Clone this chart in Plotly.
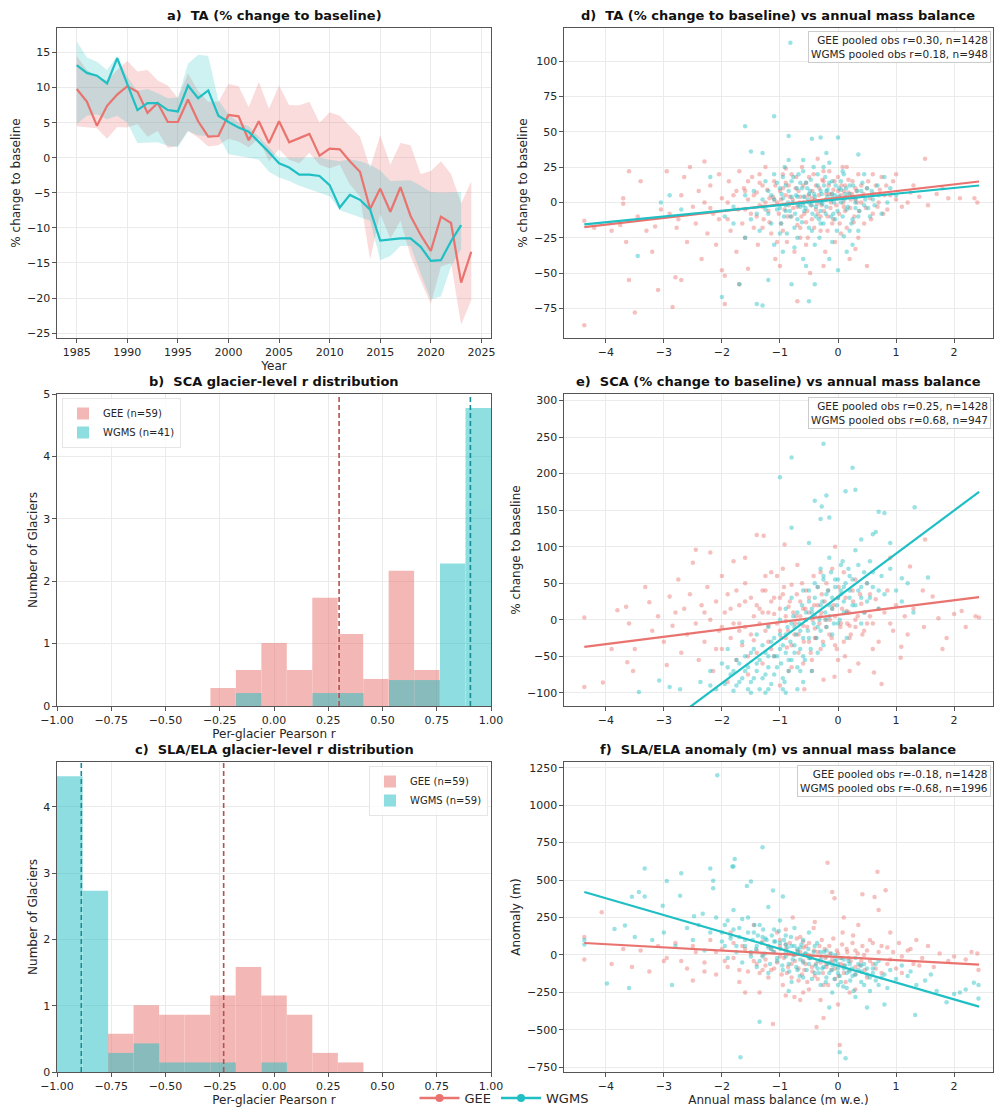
import plotly.graph_objects as go

# ---------------- data ----------------
YEARS_GEE = list(range(1985, 2025))
YEARS_WGMS = list(range(1985, 2024))
TA_GEE = [9.8, 8.0, 4.55, 7.4, 9.0, 10.2, 9.4, 6.4, 7.8, 5.1, 5.1, 8.3, 5.2, 3.0, 3.1, 6.1, 5.9, 2.5, 5.2, 2.1,
          5.2, 2.2, 2.8, 3.4, 0.3, 1.3, 1.2, -0.5, -2.0, -7.3, -4.4, -7.7, -4.2, -8.3, -11.0, -13.3, -8.4, -9.3, -17.8, -13.4]
TA_GEE_HI = [14.5, 12.5, 11.5, 11.0, 12.5, 13.8, 12.3, 12.5, 11.0, 10.3, 8.5, 12.0, 9.5, 8.0, 8.0, 10.5, 10.2, 7.2, 10.8, 7.0,
             10.3, 7.5, 7.5, 8.0, 5.0, 6.5, 6.0, 4.5, 3.0, -1.5, 3.2, -1.0, 2.1, 1.8, -2.3, -1.9, -0.5, -2.3, -6.5, -3.4]
TA_GEE_LO = [4.5, 4.3, 4.2, 2.7, 4.4, 4.3, 4.8, 3.0, 3.8, 1.4, 1.7, 3.8, 2.9, 1.6, 1.8, 2.7, 2.3, 1.5, 2.8, -0.5,
             1.2, -0.3, -0.8, 0.7, -1.0, -1.5, -1.0, -3.8, -5.5, -14.5, -8.0, -11.5, -9.0, -14.0, -17.5, -20.8, -15.5, -15.0, -23.8, -20.3]
TA_WGMS = [13.2, 12.1, 11.7, 10.6, 14.2, 10.5, 6.8, 7.8, 7.8, 6.8, 6.6, 10.3, 8.5, 9.6, 6.0, 5.1, 4.3, 3.7, 2.3, 0.8,
           -0.8, -1.4, -2.4, -2.4, -2.6, -3.9, -7.1, -5.3, -6.0, -7.4, -11.8, -11.6, -11.5, -11.5, -12.7, -14.7, -14.6, -11.9, -9.6]
TA_WGMS_HI = [16.6, 14.3, 13.7, 12.5, 14.5, 11.5, 9.5, 9.8, 9.2, 8.5, 8.6, 13.4, 14.7, 14.5, 8.2, 6.2, 5.0, 4.5, 3.0, 1.5,
              0.0, 0.0, 0.0, 0.0, 0.0, -0.3, -0.5, -0.2, -0.5, -1.0, -1.8, -3.3, -3.3, -3.2, -4.0, -4.9, -5.0, -5.0, -4.9]
TA_WGMS_LO = [4.8, 6.0, 6.2, 5.5, 6.0, 5.0, 2.1, 2.2, 2.2, 1.7, 1.5, 3.8, 3.2, 3.1, 3.2, 0.5, 0.2, 0.0, -0.3, -2.0,
              -2.8, -3.3, -4.0, -4.5, -5.0, -5.5, -7.5, -8.0, -8.5, -9.0, -14.6, -14.0, -12.6, -12.6, -16.5, -20.2, -19.8, -15.5, -13.0]

# histograms (bin start, bin end, counts)
SCA_GEE_EDGES = (-0.293, 0.763)
SCA_GEE_COUNTS = [2, 4, 7, 4, 12, 8, 3, 15, 4]
SCA_WGMS_EDGES = (-0.175, 1.0)
SCA_WGMS_COUNTS = [1, 0, 0, 1, 1, 0, 2, 2, 11, 23]
SCA_MEANS = {"GEE": 0.30, "WGMS": 0.905}
SLA_GEE_EDGES = (-0.765, 0.412)
SLA_GEE_COUNTS = [4, 7, 6, 6, 8, 11, 8, 6, 2, 1]
SLA_WGMS_EDGES = (-1.0, 0.06)
SLA_WGMS_COUNTS = [31, 19, 2, 3, 1, 1, 1, 0, 1]
SLA_MEANS = {"GEE": -0.232, "WGMS": -0.888}

# scatter points (mass balance, value)
D_GEE = [(-4.37,-87),(-4.37,-13),(-4.2,-18),(-3.9,-20),(-3.75,-16),(-3.7,3),(-3.7,-1),(-3.65,-28),(-3.6,22),(-3.6,-55),
 (-3.5,-78),(-3.45,-10),(-3.4,15),(-3.3,-20),(-3.2,-35),(-3.15,-17),(-3.1,-62),(-3.05,-5),(-2.95,22),(-2.9,-8),
 (-2.85,-74),(-2.8,-53),(-2.78,-18),(-2.75,-12),(-2.7,-55),(-2.7,5),(-2.65,18),(-2.6,-28),(-2.55,25),(-2.5,-3),
 (-2.45,-15),(-2.4,8),(-2.35,-40),(-2.3,29),(-2.3,0),(-2.25,-22),(-2.2,12),(-2.15,-8),(-2.1,-30),(-2.05,20),
 (-2.0,-48),(-2.0,3),(-1.95,-52),(-1.95,-72),(-1.9,-12),(-1.88,15),(-1.85,-20),(-1.8,5),(-1.75,-35),(-1.72,-5),
 (-1.7,22),(-1.65,-15),(-1.62,10),(-1.6,-25),(-1.55,-47),(-1.55,2),(-1.5,-8),(-1.48,18),(-1.45,-18),(-1.4,7),
 (-1.38,-30),(-1.35,-2),(-1.3,12),(-1.28,-12),(-1.25,25),(-1.2,-6),(-1.18,3),(-1.15,-22),(-1.1,15),(-1.08,-40),
 (-1.05,0),(-1.0,-45),(-1.0,8),(-0.98,-15),(-0.95,20),(-0.92,-5),(-0.9,5),(-0.88,-28),(-0.85,12),(-0.8,-10),
 (-0.78,2),(-0.75,-35),(-0.72,18),(-0.7,-70),(-0.7,-3),(-0.68,8),(-0.65,-18),(-0.62,25),(-0.6,0),(-0.58,-8),
 (-0.55,14),(-0.52,-25),(-0.5,5),(-0.48,-50),(-0.45,-12),(-0.42,20),(-0.4,2),(-0.38,-5),(-0.35,31),(-0.32,10),
 (-0.3,-20),(-0.28,-2),(-0.25,15),(-0.22,-35),(-0.2,6),(-0.18,-10),(-0.15,22),(-0.12,0),(-0.1,-15),(-0.08,9),
 (-0.05,-28),(-0.02,3),(0.0,18),(0.02,-8),(0.05,5),(0.08,25),(0.1,-3),(0.12,12),(0.15,-18),(0.18,7),
 (0.2,-40),(0.22,2),(0.25,15),(0.28,-10),(0.3,-33),(0.32,8),(0.35,20),(0.4,0),(0.45,-15),(0.5,-45),
 (0.5,10),(0.55,3),(0.6,-8),(0.65,12),(0.7,0),(0.75,18),(0.8,5),(0.85,-5),(0.9,5),(0.95,15),
 (1.0,2),(1.1,-3),(1.2,0),(1.25,7),(1.3,12),(1.4,4),(1.5,31),(1.55,-2),(1.7,6),(1.9,3),
 (2.1,3),(2.35,3),(2.4,0),(1.8,10),(1.0,20),(-0.9,24),(-1.7,-58),(-1.3,-3),(-0.65,4),(-0.35,-8),
 (-0.15,6),(0.1,8),(-1.1,2),(-0.95,10),(-0.45,3),(0.3,2),(-1.6,8),(-2.2,-4),(-0.55,-30),(-0.25,-45)]
D_GEE_CORE = [(-1.45,5),(-1.4,-10),(-1.35,14),(-1.3,-18),(-1.25,0),(-1.22,9),(-1.18,-14),(-1.12,4),(-1.08,12),(-1.02,-8),
 (-0.98,2),(-0.95,-20),(-0.9,14),(-0.87,-10),(-0.83,4),(-0.8,20),(-0.77,-4),(-0.73,10),(-0.7,-16),(-0.66,0),
 (-0.63,-10),(-0.6,12),(-0.57,4),(-0.53,-6),(-0.5,18),(-0.47,-2),(-0.44,8),(-0.41,-18),(-0.38,12),(-0.36,-1),
 (-0.33,5),(-0.3,-10),(-0.27,16),(-0.24,-6),(-0.21,2),(-0.18,-20),(-0.16,12),(-0.13,-4),(-0.11,6),(-0.08,-12),
 (-0.06,15),(-0.03,-2),(0.0,8),(0.03,-15),(0.06,12),(0.09,0),(0.12,-6),(0.15,4),(0.18,16),(0.21,-4),
 (0.24,6),(0.27,-14),(0.3,10),(0.33,0),(0.36,-6),(0.4,12),(0.44,6),(0.48,-4),(0.52,15),(0.57,-12),
 (0.62,6),(0.68,-3),(0.72,9),(0.78,-8),(0.83,12),(-1.6,-5),(-1.75,8),(-1.9,0),(-2.05,-12),(-1.55,15),
 (-0.85,-2),(-0.55,-14),(-0.25,22),(0.05,-22),(0.35,-25),(-0.65,-25),(-1.05,-28),(-1.35,20),(0.6,20),(0.15,25)]
D_WGMS = [(-0.82,113),(-1.1,61),(-1.6,54),(-0.85,47),(-0.3,46),(0.0,46),(-0.45,45),(-0.2,35),(0.35,34),(-1.3,35),
 (-1.5,36),(-3.45,-38),(-3.05,0),(-2.9,5),(-2.7,-5),(-2.2,18),(-2.0,-67),(-1.95,-10),(-1.8,-3),(-1.7,-58),
 (-1.6,-25),(-1.5,-12),(-1.45,8),(-1.4,-72),(-1.35,-20),(-1.3,-73),(-1.3,2),(-1.25,15),(-1.2,-55),(-1.2,-8),
 (-1.15,5),(-1.1,-30),(-1.1,20),(-1.05,-5),(-1.0,10),(-0.98,-15),(-0.95,3),(-0.92,25),(-0.9,-2),(-0.88,-22),
 (-0.85,8),(-0.82,-10),(-0.8,-58),(-0.8,15),(-0.78,0),(-0.75,-32),(-0.72,5),(-0.7,-12),(-0.68,20),(-0.65,-3),
 (-0.62,10),(-0.6,-40),(-0.58,-6),(-0.55,14),(-0.52,2),(-0.5,-70),(-0.5,-18),(-0.48,8),(-0.45,-2),(-0.42,25),
 (-0.4,-58),(-0.4,4),(-0.38,-10),(-0.35,12),(-0.32,-25),(-0.3,0),(-0.28,6),(-0.25,-15),(-0.22,18),(-0.2,-3),
 (-0.18,9),(-0.15,-40),(-0.12,2),(-0.1,15),(-0.08,-8),(-0.05,5),(-0.02,-20),(0.0,-48),(0.02,10),(0.05,0),
 (0.08,22),(0.1,-24),(0.12,6),(0.15,-5),(0.2,12),(0.25,-12),(0.3,3),(0.35,-20),(0.4,8),(0.45,-2),
 (0.5,10),(0.55,-10),(0.6,2),(0.7,5),(0.8,18),(0.9,10),(1.0,5),(-0.6,30),(-0.95,-35),(0.25,-30),
 (0.15,-35),(-0.7,4),(-0.5,6),(-0.3,-6),(-0.1,3),(0.05,9),(-0.9,-6),(-0.6,-2),(-0.2,8),(0.3,-4)]
D_WGMS_CORE = [(-1.25,-5),(-1.2,8),(-1.15,-15),(-1.1,2),(-1.05,14),(-1.0,-4),(-0.97,6),(-0.93,-10),(-0.9,12),(-0.86,0),
 (-0.83,-6),(-0.8,4),(-0.77,18),(-0.74,-8),(-0.71,10),(-0.68,-2),(-0.65,14),(-0.62,-14),(-0.59,4),(-0.56,-4),
 (-0.53,10),(-0.5,0),(-0.47,16),(-0.44,-8),(-0.41,6),(-0.38,-3),(-0.35,20),(-0.33,-12),(-0.3,8),(-0.27,-1),
 (-0.24,12),(-0.21,-8),(-0.18,4),(-0.15,14),(-0.12,-10),(-0.1,6),(-0.07,0),(-0.04,12),(-0.01,-6),(0.02,4),
 (0.05,15),(0.08,-10),(0.11,2),(0.14,10),(0.17,-3),(0.2,6),(0.23,-15),(0.26,12),(0.3,0),(0.33,8),
 (0.37,-6),(0.42,14),(0.47,2),(0.52,-4),(0.58,8),(0.63,-2),(0.68,12),(-0.95,18),(-0.6,22),(-0.25,25),
 (0.1,20),(-0.7,-25),(-0.4,-30),(-0.1,-28),(0.2,-20),(-1.0,-22),(-0.55,-45),(-0.85,30),(-0.15,28),(0.45,20),
 (-1.4,-8),(-1.6,5),(-1.8,-15),(0.85,0),(0.75,-8),(-0.45,-20),(-0.3,-15),(-0.05,-12),(0.35,-10),(-0.75,-18)]

E_GEE = [(-4.37,3),(-4.37,-92),(-4.05,-86),(-3.8,13),(-3.65,18),(-3.6,-5),(-3.5,-40),(-3.32,45),(-3.25,24),(-3.53,-70),
 (-3.63,-58),(-3.2,-15),(-3.1,5),(-3.0,-30),(-2.95,-62),(-2.9,32),(-2.85,-8),(-2.75,55),(-2.7,-45),(-2.65,15),
 (-2.6,-20),(-2.55,35),(-2.5,78),(-2.45,96),(-2.45,-5),(-2.4,-55),(-2.35,20),(-2.3,-30),(-2.25,45),(-2.2,92),
 (-2.2,0),(-2.15,-70),(-2.1,25),(-2.05,-15),(-2.0,60),(-2.0,-40),(-1.95,10),(-1.9,-85),(-1.9,35),(-1.85,-25),
 (-1.8,80),(-1.8,-5),(-1.75,-55),(-1.7,20),(-1.65,-35),(-1.6,50),(-1.6,-10),(-1.55,-75),(-1.5,30),(-1.5,-20),
 (-1.45,5),(-1.4,116),(-1.4,-45),(-1.35,15),(-1.3,-60),(-1.28,115),(-1.25,40),(-1.2,-8),(-1.2,-30),(-1.15,25),
 (-1.1,-50),(-1.1,8),(-1.05,60),(-1.0,-15),(-1.0,-90),(-0.95,35),(-0.92,103),(-0.9,-2),(-0.88,-38),(-0.85,18),
 (-0.8,-65),(-0.8,48),(-0.75,-20),(-0.72,5),(-0.7,75),(-0.68,-45),(-0.65,25),(-0.6,-8),(-0.58,-95),(-0.55,40),
 (-0.5,-30),(-0.5,10),(-0.45,-55),(-0.42,60),(-0.4,-12),(-0.35,20),(-0.3,-40),(-0.28,35),(-0.25,-82),(-0.22,0),
 (-0.2,50),(-0.15,-20),(-0.1,15),(-0.06,-78),(-0.05,-35),(0.0,30),(0.05,-5),(0.1,65),(0.12,-50),(0.15,12),
 (0.2,-25),(0.25,40),(0.3,0),(0.35,-60),(0.4,22),(0.45,-15),(0.5,50),(0.55,5),(0.62,-72),(0.65,28),
 (0.7,-30),(0.75,-88),(0.8,10),(0.85,40),(0.95,-15),(1.0,20),(1.09,-37),(1.08,-52),(1.15,5),(1.24,73),
 (1.3,15),(1.46,40),(1.48,-10),(1.5,110),(1.63,32),(1.73,2),(1.87,-25),(2.0,8),(2.13,12),(2.37,5),
 (2.43,3),(1.2,-20),(0.9,85),(-0.05,100),(-1.6,85),(-1.3,10),(-0.9,-25),(-0.6,15),(-0.3,5),(0.2,-8),
 (-1.7,-15),(-1.0,30),(-0.4,-25),(0.6,-5),(1.8,-40),(2.2,-10),(-3.9,-40),(-2.8,10)]
E_GEE_CORE = [(-1.45,-28),(-1.4,20),(-1.35,-5),(-1.3,40),(-1.25,-15),(-1.2,10),(-1.15,-40),(-1.1,30),(-1.05,-5),(-1.0,15),
 (-0.97,-25),(-0.93,45),(-0.9,5),(-0.86,-15),(-0.83,25),(-0.8,-35),(-0.77,10),(-0.74,-5),(-0.71,35),(-0.68,-20),
 (-0.65,5),(-0.62,50),(-0.59,-30),(-0.56,15),(-0.53,-10),(-0.5,30),(-0.47,-45),(-0.44,0),(-0.41,20),(-0.38,-25),
 (-0.35,45),(-0.32,-5),(-0.29,10),(-0.26,-30),(-0.23,25),(-0.2,-10),(-0.17,40),(-0.14,0),(-0.11,-25),(-0.08,20),
 (-0.05,5),(-0.02,-40),(0.01,45),(0.04,-10),(0.07,15),(0.1,-30),(0.13,30),(0.16,-5),(0.19,10),(0.22,-20),
 (0.26,25),(0.3,-10),(0.34,5),(0.38,35),(0.42,-20),(0.46,10),(0.5,-5),(-1.6,25),(-1.7,-5),(-1.85,15),
 (-2.0,-10),(-1.55,-50),(-1.25,60),(-0.95,70),(-0.6,-60),(-0.3,65),(0.0,-55),(0.3,55),(0.6,-40),(0.7,15),
 (-1.75,40),(-2.1,-40),(-0.45,-70),(-0.1,70),(0.2,-70),(-0.85,-70),(-1.15,65),(0.55,35),(0.9,-5),(-2.3,10)]
E_WGMS = [(-0.25,241),(-0.8,222),(0.25,208),(-1.0,195),(0.13,176),(0.3,178),(-0.2,170),(-0.4,163),(-0.28,155),(1.32,154),
 (0.7,148),(0.8,146),(-0.15,140),(-0.3,138),(-0.8,126),(0.6,117),(0.65,120),(-0.5,105),(0.9,105),(0.4,110),
 (1.55,58),(1.1,57),(-3.43,-99),(-3.08,-83),(-2.9,-92),(-2.72,-95),(-2.37,-85),(-2.2,-70),(-2.1,-95),(-2.0,-60),
 (-1.95,-88),(-1.9,-40),(-1.85,-75),(-1.8,-97),(-1.75,-55),(-1.7,-85),(-1.65,-30),(-1.6,-70),(-1.55,-95),(-1.5,-45),
 (-1.45,-80),(-1.4,-20),(-1.4,-60),(-1.35,-95),(-1.3,-35),(-1.25,-75),(-1.2,-10),(-1.2,-50),(-1.15,-88),(-1.1,-25),
 (-1.05,-65),(-1.0,0),(-1.0,-40),(-0.95,-80),(-0.9,15),(-0.9,-20),(-0.85,-55),(-0.8,30),(-0.8,-5),(-0.75,-35),
 (-0.7,-95),(-0.7,10),(-0.65,-15),(-0.6,40),(-0.6,-50),(-0.55,0),(-0.5,25),(-0.5,-25),(-0.45,-70),(-0.4,50),
 (-0.4,5),(-0.35,-10),(-0.3,70),(-0.3,20),(-0.25,-35),(-0.2,35),(-0.2,0),(-0.15,85),(-0.1,15),(-0.1,-20),
 (-0.05,55),(0.0,30),(0.0,-5),(0.05,75),(0.1,10),(0.1,45),(0.15,-25),(0.2,60),(0.25,20),(0.3,95),
 (0.35,40),(0.4,-5),(0.45,65),(0.5,25),(0.55,80),(0.6,45),(0.7,15),(0.75,60),(0.8,35),(0.9,70),
 (1.0,40),(1.1,25),(1.2,50),(1.3,10),(-0.95,-95),(-1.25,-100),(-0.65,-70),(-0.35,-45),(0.05,40),(-0.15,20),
 (-0.45,10),(0.2,30),(-1.1,-50),(-0.75,-10),(0.4,30),(-0.25,55)]
E_WGMS_CORE = [(-1.8,-70),(-1.75,-90),(-1.7,-60),(-1.65,-80),(-1.6,-50),(-1.55,-65),(-1.5,-85),(-1.45,-40),(-1.4,-70),(-1.35,-55),
 (-1.3,-80),(-1.25,-45),(-1.2,-65),(-1.15,-30),(-1.1,-75),(-1.05,-50),(-1.0,-20),(-0.98,-60),(-0.95,-35),(-0.92,-85),
 (-0.9,-45),(-0.87,-10),(-0.85,-70),(-0.82,-30),(-0.8,-55),(-0.77,5),(-0.75,-45),(-0.72,-20),(-0.7,-65),(-0.67,-5),
 (-0.65,-40),(-0.62,20),(-0.6,-25),(-0.57,-55),(-0.55,10),(-0.52,-15),(-0.5,40),(-0.47,-40),(-0.45,15),(-0.42,-5),
 (-0.4,30),(-0.37,-25),(-0.35,45),(-0.32,0),(-0.3,-15),(-0.27,25),(-0.25,60),(-0.22,10),(-0.2,-10),(-0.17,40),
 (-0.15,5),(-0.12,65),(-0.1,30),(-0.07,-5),(-0.05,45),(-0.02,20),(0.0,55),(0.03,0),(0.05,35),(0.08,80),
 (0.1,25),(0.13,50),(0.15,10),(0.18,70),(0.2,40),(0.25,55),(0.3,20),(0.35,75),(0.4,45),(0.45,10),
 (0.5,50),(0.55,30),(0.6,65),(0.7,40),(-1.5,-100),(-1.2,-95),(-0.9,-100),(-0.6,-85),(-2.2,-90),(-1.9,-65)]

F_GEE = [(-4.37,120),(-4.37,-30),(-4.07,285),(-3.9,-60),(-3.7,40),(-3.55,-80),(-3.4,30),(-3.25,-110),(-3.1,60),(-2.95,-20),
 (-2.8,80),(-2.6,-90),(-2.45,20),(-2.3,-50),(-2.2,100),(-2.1,-130),(-2.0,40),(-1.9,-80),(-1.85,150),(-1.8,-20),
 (-1.7,-180),(-1.65,60),(-1.55,-110),(-1.5,10),(-1.45,200),(-1.4,-60),(-1.35,-250),(-1.3,90),(-1.25,-30),(-1.2,-150),
 (-1.15,40),(-1.12,-460),(-1.1,-90),(-1.05,150),(-1.0,-10),(-0.95,-200),(-0.9,70),(-0.88,-120),(-0.85,10),(-0.8,-60),
 (-0.78,250),(-0.75,-280),(-0.7,30),(-0.68,-170),(-0.65,120),(-0.6,-40),(-0.58,-100),(-0.55,60),(-0.5,-230),(-0.5,0),
 (-0.45,-80),(-0.42,180),(-0.4,-140),(-0.37,-480),(-0.35,20),(-0.3,-50),(-0.28,100),(-0.25,-420),(-0.25,-200),(-0.22,-20),
 (-0.18,616),(-0.15,60),(-0.12,-100),(-0.1,420),(-0.1,-30),(-0.06,378),(-0.05,-160),(0.0,10),(0.03,-600),(0.05,-60),
 (0.08,150),(0.1,-120),(0.15,40),(0.18,-20),(0.2,-250),(0.25,80),(0.3,-80),(0.35,200),(0.4,-40),(0.42,405),
 (0.45,0),(0.5,-150),(0.55,100),(0.6,-60),(0.63,387),(0.68,555),(0.7,300),(0.7,20),(0.75,-120),(0.82,432),
 (0.85,50),(0.9,-30),(1.0,-90),(1.05,80),(1.1,-10),(1.2,30),(1.3,-60),(1.35,100),(1.45,-20),(1.55,60),
 (1.65,-80),(1.75,10),(1.9,-40),(2.0,-10),(2.2,-30),(2.3,20),(2.4,10),(2.42,-100),(-0.65,-300),(-0.9,-270),
 (0.1,250),(-1.6,-250),(-2.5,-170),(-1.0,60),(-0.6,90),(-0.2,-80),(0.3,30),(-1.3,-100),(-3.0,-40),(0.9,150)]
F_GEE_CORE = [(-1.45,-40),(-1.4,30),(-1.35,-120),(-1.3,0),(-1.25,-70),(-1.2,60),(-1.15,-100),(-1.1,20),(-1.05,-50),(-1.0,100),
 (-0.97,-130),(-0.93,-20),(-0.9,40),(-0.86,-80),(-0.83,80),(-0.8,-150),(-0.77,0),(-0.74,-40),(-0.71,110),(-0.68,-90),
 (-0.65,20),(-0.62,-130),(-0.59,50),(-0.56,-60),(-0.53,-180),(-0.5,80),(-0.47,-20),(-0.44,-110),(-0.41,30),(-0.38,-60),
 (-0.35,-160),(-0.32,60),(-0.29,-10),(-0.26,-120),(-0.23,40),(-0.2,-60),(-0.17,-200),(-0.14,10),(-0.11,-50),(-0.08,110),
 (-0.05,-90),(-0.02,30),(0.01,-140),(0.04,-20),(0.07,70),(0.1,-70),(0.13,-180),(0.16,20),(0.19,-100),(0.22,-40),
 (0.26,130),(0.3,-130),(0.34,10),(0.38,-70),(0.42,60),(0.46,-100),(0.5,30),(0.55,-40),(0.6,80),(0.65,-90),
 (-1.6,40),(-1.7,-100),(-1.8,80),(-1.95,-40),(-2.1,20),(-2.3,-110),(-2.5,60),(-2.7,-40),(0.75,60),(0.85,-60),
 (0.95,20),(1.1,-120),(1.25,40),(1.4,-70),(-0.6,-250),(-0.3,-300),(0.0,-330),(0.3,-230),(-0.9,170),(-0.4,220)]
F_WGMS = [(-2.08,1200),(-1.3,719),(-1.78,640),(-2.2,578),(-3.33,578),(-2.7,545),(-2.95,494),(-1.82,590),(-3.98,-190),(-3.6,-220),
 (-2.86,-200),(-1.68,-683),(-1.35,-445),(0.03,-650),(0.13,-690),(1.33,-400),(2.34,-185),(2.42,-200),(2.42,-290),(1.87,-315),
 (2.1,-250),(-4.37,70),(-4.37,100),(-3.85,173),(-3.67,197),(-3.55,389),(-3.43,420),(-3.33,390),(-3.02,329),(-2.72,395),
 (-2.48,258),(-2.33,275),(-2.15,445),(-2.15,495),(-1.8,590),(-1.57,460),(-1.5,490),(-1.12,430),(-0.95,390),
 (-3.5,120),(-3.2,100),(-3.0,150),(-2.8,60),(-2.6,180),(-2.5,100),(-2.4,200),(-2.3,30),(-2.2,150),(-2.1,250),
 (-2.0,90),(-1.95,200),(-1.9,-20),(-1.85,130),(-1.8,300),(-1.75,60),(-1.7,180),(-1.65,-50),(-1.6,100),(-1.55,250),
 (-1.5,20),(-1.45,150),(-1.4,-80),(-1.4,60),(-1.35,200),(-1.3,-10),(-1.25,110),(-1.2,320),(-1.2,-120),(-1.15,40),
 (-1.1,170),(-1.05,-40),(-1.0,80),(-1.0,230),(-0.95,-100),(-0.9,20),(-0.9,130),(-0.85,-60),(-0.8,60),(-0.8,-180),
 (-0.75,0),(-0.75,180),(-0.7,-100),(-0.7,40),(-0.65,-30),(-0.6,100),(-0.6,-150),(-0.55,10),(-0.5,-60),(-0.5,150),
 (-0.45,-10),(-0.4,-120),(-0.4,60),(-0.35,-40),(-0.3,-200),(-0.3,20),(-0.25,-80),(-0.2,-150),(-0.2,30),(-0.15,-50),
 (-0.1,-100),(-0.1,-250),(-0.05,0),(0.0,-120),(0.0,-60),(0.05,-180),(0.1,-30),(0.1,-90),(0.15,-220),(0.2,-60),
 (0.25,-140),(0.3,-20),(0.3,-280),(0.35,-100),(0.4,-180),(0.45,-60),(0.5,-130),(0.55,-240),(0.6,-90),(0.65,-170),
 (0.7,-40),(0.8,-130),(0.85,-220),(0.9,-100),(1.0,-160),(1.1,-70),(1.2,-140),(1.25,-110),(1.35,-200),(1.5,-170),
 (1.6,-130),(1.7,-240),(2.0,-260),(2.2,-230),(-0.85,-240),(-0.15,-350),(0.5,-350),(0.8,-330),(-1.1,90),(-0.65,50),
 (-0.35,-90),(-0.05,-40),(0.2,-110),(-0.9,70),(-0.5,-20),(0.0,-200),(-1.3,120),(-0.2,-10),(0.4,-70),(-0.6,0)]
F_WGMS_CORE = [(-2.0,150),(-1.95,60),(-1.9,230),(-1.85,110),(-1.8,170),(-1.75,20),(-1.7,120),(-1.65,240),(-1.6,60),(-1.55,150),
 (-1.5,-10),(-1.47,100),(-1.44,200),(-1.41,40),(-1.38,130),(-1.35,-40),(-1.32,80),(-1.29,170),(-1.26,10),(-1.23,100),
 (-1.2,50),(-1.17,-60),(-1.14,130),(-1.11,20),(-1.08,90),(-1.05,-20),(-1.02,160),(-0.99,40),(-0.96,-70),(-0.93,100),
 (-0.9,-10),(-0.87,50),(-0.84,-110),(-0.81,120),(-0.78,-30),(-0.75,60),(-0.72,-80),(-0.69,20),(-0.66,-140),(-0.63,70),
 (-0.6,-50),(-0.57,10),(-0.54,-100),(-0.51,40),(-0.48,-20),(-0.45,-160),(-0.42,20),(-0.39,-70),(-0.36,80),(-0.33,-120),
 (-0.3,-30),(-0.27,-90),(-0.24,20),(-0.21,-180),(-0.18,-60),(-0.15,-120),(-0.12,10),(-0.09,-70),(-0.06,-160),(-0.03,-30),
 (0.0,-90),(0.03,-140),(0.06,-20),(0.09,-210),(0.12,-70),(0.15,-120),(0.18,-40),(0.21,-170),(0.24,-90),(0.27,-240),
 (0.3,-130),(0.35,-60),(0.4,-110),(0.45,-200),(0.5,-90),(0.55,-150),(0.6,-120),(0.65,-60),(0.7,-200),(0.75,-150)]

# regression line endpoints (x at ends of data, fitted values)
FIT_X = [-4.37, 2.43]
D_FIT = {"GEE": [-17.5, 14.8], "WGMS": [-15.5, 12.0]}
E_FIT = {"GEE": [-37.0, 31.0], "WGMS": [-226.9, 175.0]}
F_FIT = {"GEE": [80.0, -65.0], "WGMS": [420.0, -345.0]}

STATS = {
    "d": "GEE pooled obs r=0.30, n=1428<br>WGMS pooled obs r=0.18, n=948",
    "e": "GEE pooled obs r=0.25, n=1428<br>WGMS pooled obs r=0.68, n=947",
    "f": "GEE pooled obs r=-0.18, n=1428<br>WGMS pooled obs r=-0.68, n=1996",
}

# ---------------- style ----------------
C_GEE = "#E9736E"
C_WGMS = "#1FBFC4"
C_GEE_DARK = "#B4524E"
C_WGMS_DARK = "#168C94"
FONT = "DejaVu Sans"
W, H = 995, 1108


def rgba(hexc, a):
    h = hexc.lstrip("#")
    return "rgba(%d,%d,%d,%.2f)" % (int(h[0:2], 16), int(h[2:4], 16), int(h[4:6], 16), a)


fig = go.Figure()

# ---------- panel a ----------
fig.add_trace(go.Scatter(x=YEARS_GEE + YEARS_GEE[::-1], y=TA_GEE_HI + TA_GEE_LO[::-1], fill="toself",
                         fillcolor=rgba(C_GEE, 0.25), line=dict(width=0), mode="lines", showlegend=False,
                         xaxis="x", yaxis="y", hoverinfo="skip"))
fig.add_trace(go.Scatter(x=YEARS_WGMS + YEARS_WGMS[::-1], y=TA_WGMS_HI + TA_WGMS_LO[::-1], fill="toself",
                         fillcolor=rgba(C_WGMS, 0.22), line=dict(width=0), mode="lines", showlegend=False,
                         xaxis="x", yaxis="y", hoverinfo="skip"))
fig.add_trace(go.Scatter(x=YEARS_GEE, y=TA_GEE, mode="lines", line=dict(color=C_GEE, width=2.2),
                         showlegend=False, xaxis="x", yaxis="y"))
fig.add_trace(go.Scatter(x=YEARS_WGMS, y=TA_WGMS, mode="lines", line=dict(color=C_WGMS, width=2.2),
                         showlegend=False, xaxis="x", yaxis="y"))


# ---------- histograms ----------
def hist_bars(edges, counts, color, name, xa, ya, legend):
    n = sum(counts)
    width = (edges[1] - edges[0]) / len(counts)
    centers = [edges[0] + width * (i + 0.5) for i in range(len(counts))]
    dens = [c / (n * width) for c in counts]
    return go.Bar(x=centers, y=dens, width=[width] * len(counts), marker=dict(color=color, line=dict(width=0)),
                  opacity=0.5, name=name, xaxis=xa, yaxis=ya, legend=legend, showlegend=True)


fig.add_trace(hist_bars(SCA_GEE_EDGES, SCA_GEE_COUNTS, C_GEE, "GEE (n=%d)" % sum(SCA_GEE_COUNTS), "x3", "y3", "legend2"))
fig.add_trace(hist_bars(SCA_WGMS_EDGES, SCA_WGMS_COUNTS, C_WGMS, "WGMS (n=%d)" % sum(SCA_WGMS_COUNTS), "x3", "y3", "legend2"))
fig.add_trace(hist_bars(SLA_GEE_EDGES, SLA_GEE_COUNTS, C_GEE, "GEE (n=%d)" % sum(SLA_GEE_COUNTS), "x5", "y5", "legend3"))
fig.add_trace(hist_bars(SLA_WGMS_EDGES, SLA_WGMS_COUNTS, C_WGMS, "WGMS (n=%d)" % sum(SLA_WGMS_COUNTS), "x5", "y5", "legend3"))

shapes = []
for means, xr, yr in [(SCA_MEANS, "x3", "y3 domain"), (SLA_MEANS, "x5", "y5 domain")]:
    for key, col in [("GEE", C_GEE_DARK), ("WGMS", C_WGMS_DARK)]:
        shapes.append(dict(type="line", xref=xr, yref=yr, x0=means[key], x1=means[key], y0=0, y1=1,
                           line=dict(color=col, width=1.6, dash="5px,3px")))


# ---------- scatter panels ----------
def add_scatter(pts, color, xa, ya):
    fig.add_trace(go.Scatter(x=[p[0] for p in pts], y=[p[1] for p in pts], mode="markers",
                             marker=dict(color=color, size=4.5, opacity=0.45, line=dict(width=0)),
                             showlegend=False, xaxis=xa, yaxis=ya, cliponaxis=True))


for (g, w, fit, xa, ya) in [(D_GEE + D_GEE_CORE, D_WGMS + D_WGMS_CORE, D_FIT, "x2", "y2"),
                            (E_GEE + E_GEE_CORE, E_WGMS + E_WGMS_CORE, E_FIT, "x4", "y4"),
                            (F_GEE + F_GEE_CORE, F_WGMS + F_WGMS_CORE, F_FIT, "x6", "y6")]:
    add_scatter(g, C_GEE, xa, ya)
    add_scatter(w, C_WGMS, xa, ya)
    fig.add_trace(go.Scatter(x=FIT_X, y=fit["GEE"], mode="lines", line=dict(color=C_GEE, width=2.2),
                             showlegend=False, xaxis=xa, yaxis=ya))
    fig.add_trace(go.Scatter(x=FIT_X, y=fit["WGMS"], mode="lines", line=dict(color=C_WGMS, width=2.2),
                             showlegend=False, xaxis=xa, yaxis=ya))

# legend-only entries for the shared bottom legend
fig.add_trace(go.Scatter(x=[None], y=[None], mode="lines+markers", name="GEE",
                         line=dict(color=C_GEE, width=2.5), marker=dict(size=8, color=C_GEE),
                         xaxis="x", yaxis="y", legend="legend"))
fig.add_trace(go.Scatter(x=[None], y=[None], mode="lines+markers", name="WGMS",
                         line=dict(color=C_WGMS, width=2.5), marker=dict(size=8, color=C_WGMS),
                         xaxis="x", yaxis="y", legend="legend"))


# ---------- layout ----------
def px_x(p):
    return p / W


def px_y(p):
    return 1 - p / H


LX = [px_x(57), px_x(491)]
RX = [px_x(564), px_x(993)]
R1 = [px_y(338), px_y(28)]
R2 = [px_y(706), px_y(394)]
R3 = [px_y(1072), px_y(762)]

TICKFONT = dict(family=FONT, size=11, color="#262626")
TITLEFONT = dict(family=FONT, size=12, color="#262626")


def ax(domain, anchor, rng, dtick, title=None, tickformat=None, tick0=None):
    d = dict(domain=domain, anchor=anchor, range=rng, dtick=dtick, showline=True, mirror=True, automargin=False,
             linecolor="#555555", linewidth=1.2, ticks="outside", ticklen=3.5, tickwidth=1, tickcolor="#555555",
             showgrid=True, gridcolor="#ebebeb", gridwidth=1, zeroline=False, tickfont=TICKFONT)
    if tick0 is not None:
        d["tick0"] = tick0
    if tickformat:
        d["tickformat"] = tickformat
    if title:
        d["title"] = dict(text=title, font=TITLEFONT, standoff=3)
    return d


layout = dict(
    width=W, height=H, margin=dict(l=0, r=0, t=0, b=0, autoexpand=False), plot_bgcolor="white",
    paper_bgcolor="white", font=dict(family=FONT, color="#262626"), barmode="overlay", hovermode=False,
    xaxis=ax(LX, "y", [1983.05, 2025.95], 5, "Year", tick0=1985),
    yaxis=ax(R1, "x", [-25.7, 18.5], 5, "% change to baseline", tick0=0),
    xaxis2=ax(RX, "y2", [-4.72, 2.67], 1, None, tick0=0),
    yaxis2=ax(R1, "x2", [-96, 123.5], 25, "% change to baseline", tick0=0),
    xaxis3=ax(LX, "y3", [-1, 1], 0.25, "Per-glacier Pearson r", ".2f", tick0=0),
    yaxis3=ax(R2, "x3", [0, 5], 1, "Number of Glaciers", tick0=0),
    xaxis4=ax(RX, "y4", [-4.72, 2.67], 1, None, tick0=0),
    yaxis4=ax(R2, "x4", [-118, 309], 50, "% change to baseline", tick0=0),
    xaxis5=ax(LX, "y5", [-1, 1], 0.25, "Per-glacier Pearson r", ".2f", tick0=0),
    yaxis5=ax(R3, "x5", [0, 4.675], 1, "Number of Glaciers", tick0=0),
    xaxis6=ax(RX, "y6", [-4.72, 2.67], 1, "Annual mass balance (m w.e.)", tick0=0),
    yaxis6=ax(R3, "x6", [-781, 1288], 250, "Anomaly (m)", tick0=0),
    legend=dict(orientation="h", x=px_x(504), xanchor="center", y=px_y(1098), yanchor="middle",
                font=dict(family=FONT, size=13, color="#262626"), bgcolor="rgba(255,255,255,0)",
                itemwidth=40, tracegroupgap=0),
    legend2=dict(x=px_x(62), xanchor="left", y=px_y(398), yanchor="top", bgcolor="rgba(255,255,255,0.8)",
                 bordercolor="#e6e6e6", borderwidth=1, font=dict(family=FONT, size=10, color="#262626"),
                 itemwidth=30),
    legend3=dict(x=px_x(488), xanchor="right", y=px_y(766), yanchor="top", bgcolor="rgba(255,255,255,0.8)",
                 bordercolor="#e6e6e6", borderwidth=1, font=dict(family=FONT, size=10, color="#262626"),
                 itemwidth=30),
    shapes=shapes,
)

annotations = []
titles = [
    ("a)  TA (% change to baseline)", LX, R1),
    ("d)  TA (% change to baseline) vs annual mass balance", RX, R1),
    ("b)  SCA glacier-level r distribution", LX, R2),
    ("e)  SCA (% change to baseline) vs annual mass balance", RX, R2),
    ("c)  SLA/ELA glacier-level r distribution", LX, R3),
    ("f)  SLA/ELA anomaly (m) vs annual mass balance", RX, R3),
]
for text, xd, yd in titles:
    annotations.append(dict(text="<b>%s</b>" % text, xref="paper", yref="paper", x=(xd[0] + xd[1]) / 2,
                            y=yd[1] + 3 / H, xanchor="center", yanchor="bottom", showarrow=False,
                            font=dict(family=FONT, size=13, color="#111111")))
for key, xa, ya in [("d", "x2", "y2"), ("e", "x4", "y4"), ("f", "x6", "y6")]:
    annotations.append(dict(text=STATS[key], xref=xa + " domain", yref=ya + " domain", x=0.995, y=0.99,
                            xanchor="right", yanchor="top", align="right", showarrow=False,
                            bgcolor="rgba(255,255,255,0.85)", bordercolor="#cccccc", borderwidth=1, borderpad=2,
                            font=dict(family=FONT, size=10.5, color="#262626")))
layout["annotations"] = annotations

fig.update_layout(**layout)
fig.write_html("out.html", config={"displayModeBar": False},
               post_script="document.body.style.margin='0';document.body.style.overflow='hidden';")
